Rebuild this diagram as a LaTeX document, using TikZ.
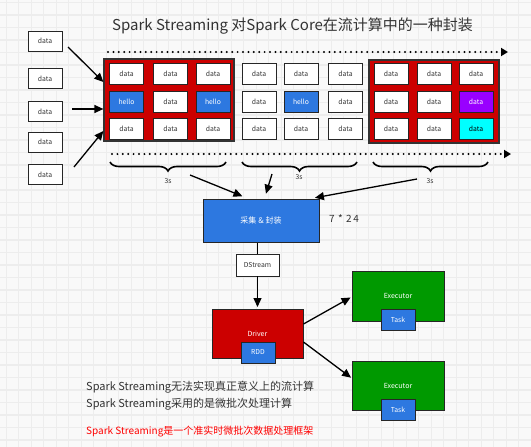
\documentclass[tikz,border=0pt]{standalone}
\usepackage{fontspec}
\setmainfont{Noto Sans CJK SC}
\usetikzlibrary{arrows.meta,decorations.pathreplacing,calc}
\definecolor{bg}{HTML}{F9F9F9}
\definecolor{gridc}{HTML}{EDEDED}
\definecolor{sred}{HTML}{CC0000}
\definecolor{sblue}{HTML}{2D78E0}
\definecolor{spurple}{HTML}{9900FF}
\definecolor{scyan}{HTML}{00FFFF}
\definecolor{sgreen}{HTML}{009900}
\definecolor{txt}{HTML}{333333}
\begin{document}
\begin{tikzpicture}[x=1pt,y=-1pt,
  cell/.style={draw=black!85, line width=0.9pt, fill=white, minimum width=34pt, minimum height=21pt, inner sep=0pt, font=\fontsize{6.8}{7}\selectfont, text=txt},
  hcell/.style={cell, fill=sblue, text=white},
  pcell/.style={cell, fill=spurple, text=white},
  ccell/.style={cell, fill=scyan, text=black},
  redbox/.style={draw=black!80, line width=1.2pt, fill=sred, minimum width=130pt, minimum height=82pt, inner sep=0pt},
  bigbox/.style={draw=black!85, line width=1pt, inner sep=0pt, text=white, font=\fontsize{7}{8}\selectfont},
  arr/.style={line width=1.3pt, draw=black, -{Triangle[length=9pt,width=8pt]}},
  dotline/.style={line width=2.2pt, line cap=round, dash pattern=on 0pt off 5.4pt, -{Triangle[length=7pt,width=8pt]}},
  brc/.style={decorate, decoration={brace, mirror, amplitude=9pt}, line width=1.6pt},
  small/.style={font=\fontsize{6.8}{7}\selectfont, text=txt, inner sep=1pt}
]
\useasboundingbox (0,0) rectangle (531,447);
\fill[bg] (0,0) rectangle (531,447);
\foreach \i in {0,...,21}{
  \draw[gridc, line width=0.8pt] (6+25*\i,0) -- (6+25*\i,447);
  \draw[gridc, line width=1.6pt] (18.5+25*\i,0) -- (18.5+25*\i,447);
}
\foreach \i in {0,...,18}{
  \draw[gridc, line width=0.8pt] (0,2.7+25*\i) -- (531,2.7+25*\i);
  \draw[gridc, line width=1.6pt] (0,15.2+25*\i) -- (531,15.2+25*\i);
}

% title
\node[anchor=west, font=\fontsize{15}{18}\selectfont, text=txt, inner sep=0pt] (title) at (112,26) {Spark Streaming 对Spark Core在流计算中的一种封装};

% dotted time lines
\coordinate (dt1) at (108,52);
\coordinate (dt2) at (508,52);
\coordinate (db1) at (112,154);
\coordinate (db2) at (511,154);
\draw[dotline] (dt1) -- (dt2);
\draw[dotline] (db1) -- (db2);

% left data sources
\node[cell, minimum height=20pt] (l1) at (45,41) {data};
\node[cell, minimum height=20pt] (l2) at (45,78.5) {data};
\node[cell, minimum height=20pt] (l3) at (45,111.5) {data};
\node[cell, minimum height=20pt] (l4) at (45,142) {data};
\node[cell, minimum height=20pt] (l5) at (45,174.5) {data};

% red batch 1
\node[redbox] (rb1) at (169,100) {};
\node[cell] (a11) at (126.5,73.5) {data};
\node[cell] (a12) at (170.5,73.5) {data};
\node[cell] (a13) at (213,73.5) {data};
\node[hcell] (a21) at (126.5,101.5) {hello};
\node[cell] (a22) at (170.5,101.5) {data};
\node[hcell] (a23) at (213,101.5) {hello};
\node[cell] (a31) at (126.5,128.5) {data};
\node[cell] (a32) at (170.5,128.5) {data};
\node[cell] (a33) at (213,128.5) {data};

% middle batch
\node[cell] (b11) at (259,73.5) {data};
\node[cell] (b12) at (301,73.5) {data};
\node[cell] (b13) at (345.5,73.5) {data};
\node[cell] (b21) at (259,101.5) {data};
\node[hcell] (b22) at (301,101.5) {hello};
\node[cell] (b23) at (345.5,101.5) {data};
\node[cell] (b31) at (259,128.5) {data};
\node[cell] (b32) at (301,128.5) {data};
\node[cell] (b33) at (345.5,128.5) {data};

% red batch 2
\node[redbox, minimum height=83pt] (rb2) at (434,101.5) {};
\node[cell] (c11) at (391,74) {data};
\node[cell] (c12) at (434,74) {data};
\node[cell] (c13) at (476,74) {data};
\node[cell] (c21) at (391,102) {data};
\node[cell] (c22) at (434,102) {data};
\node[pcell] (c23) at (476,102) {data};
\node[cell] (c31) at (391,129) {data};
\node[cell] (c32) at (434,129) {data};
\node[ccell] (c33) at (476,129) {data};

% arrows from sources
\coordinate (la1) at (68,47);
\coordinate (la2) at (72,109);
\coordinate (la3) at (74,167);
\draw[arr] (la1) -- (rb1.west |- 0,82);
\draw[arr] (la2) -- (rb1.west |- 0,109);
\draw[arr] (la3) -- (rb1.west |- 0,131);

% braces
\coordinate (br1a) at (110,162);
\coordinate (br1b) at (226,162);
\coordinate (br2a) at (242,162);
\coordinate (br2b) at (357,162);
\coordinate (br3a) at (373,162);
\coordinate (br3b) at (488,162);
\draw[brc] (br1a) -- (br1b);
\draw[brc] (br2a) -- (br2b);
\draw[brc] (br3a) -- (br3b);
\node[small] (s1) at (168,181) {3s};
\node[small] (s2) at (299,177) {3s};
\node[small] (s3) at (430,181) {3s};

% collect & wrap
\node[bigbox, fill=sblue, minimum width=116pt, minimum height=43pt, font=\fontsize{8}{9}\selectfont] (blue) at (261,220.5) {采集 \& 封装};
\node[font=\fontsize{10}{12}\selectfont, text=txt, inner sep=0pt] (tf) at (344,219) {7\,\,*\,\,2\,4};

\coordinate (p1) at (190,175);
\coordinate (p2) at (272,174);
\coordinate (p3) at (417,179);
\draw[arr, shorten >=6pt] (p1) -- (blue.north west -| 248,0);
\draw[arr, shorten >=5pt] (p2) -- (blue.north -| 264.5,0);
\draw[arr, shorten >=4pt] (p3) -- (blue.north -| 311,0);

% DStream
\node[cell, minimum width=43pt, minimum height=22pt] (ds) at (257.5,265) {DStream};
\draw[line width=1.3pt] (blue.south -| ds) -- (ds.north);

% Driver
\node[bigbox, fill=sred, minimum width=91pt, minimum height=49pt] (drv) at (257.5,333.5) {Driver};
\node[hcell] (rdd) at (258,352.5) {RDD};
\draw[arr, shorten >=1.5pt] (ds.south) -- (drv.north);

% Executors
\node[bigbox, fill=sgreen, minimum width=92pt, minimum height=50pt] (ex1) at (398,296) {Executor};
\node[hcell] (t1) at (398,319.5) {Task};
\node[bigbox, fill=sgreen, minimum width=92pt, minimum height=49pt] (ex2) at (398,385.5) {Executor};
\node[hcell] (t2) at (398,409.5) {Task};
\draw[arr, shorten >=1pt] ($(drv.east)+(0,-9.5)$) -- ($(ex1.west)+(0,1)$);
\draw[arr, shorten >=0.5pt] ($(drv.east)+(0,8.5)$) -- ($(ex2.west)+(0,-7.5)$);

% notes
\node[anchor=west, font=\fontsize{11}{13}\selectfont, text=txt, inner sep=0pt] (n1) at (86,387) {Spark Streaming无法实现真正意义上的流计算};
\node[anchor=west, font=\fontsize{11}{13}\selectfont, text=txt, inner sep=0pt] (n2) at (86,404) {Spark Streaming采用的是微批次处理计算};
\node[anchor=west, font=\fontsize{10}{12}\selectfont, text=red, inner sep=0pt] (n3) at (86,432) {Spark Streaming是一个准实时微批次数据处理框架};
\end{tikzpicture}
\end{document}
